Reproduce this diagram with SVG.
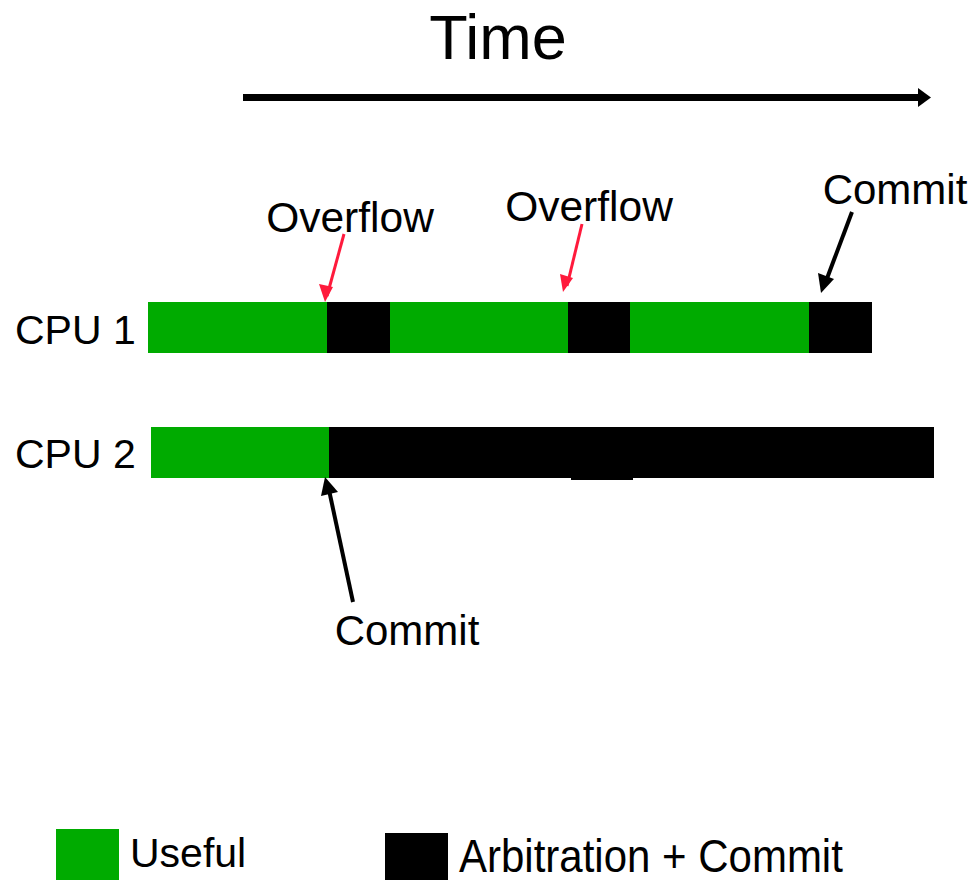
<svg xmlns="http://www.w3.org/2000/svg" width="977" height="880" viewBox="0 0 977 880">
  <style>
    text { font-family: "Liberation Sans", Arial, sans-serif; fill: #000; }
    .useful { fill: #00ab00; }
    .arb { fill: #000; }
    .red { stroke: #ff1a3c; stroke-width: 3; fill: none; }
    .blk { stroke: #000; stroke-width: 4; fill: none; }
  </style>

  <!-- time axis -->
  <g id="time-axis">
    <text x="498" y="59" font-size="63" text-anchor="middle">Time</text>
    <rect x="243" y="94" width="678" height="7" fill="#000"/>
    <path d="M918,88 L931,97.5 L918,107 z" fill="#000"/>
  </g>

  <!-- CPU 1 timeline -->
  <g id="cpu1">
    <text x="15" y="344" font-size="41">CPU 1</text>
    <rect class="useful" x="148" y="302" width="179" height="51"/>
    <rect class="arb" x="327" y="302" width="63" height="51"/>
    <rect class="useful" x="390" y="302" width="178" height="51"/>
    <rect class="arb" x="568" y="302" width="62" height="51"/>
    <rect class="useful" x="630" y="302" width="179" height="51"/>
    <rect class="arb" x="809" y="302" width="63" height="51"/>
  </g>

  <!-- CPU 2 timeline -->
  <g id="cpu2">
    <text x="15" y="468" font-size="41">CPU 2</text>
    <rect class="useful" x="151" y="427" width="178" height="51"/>
    <rect class="arb" x="329" y="427" width="605" height="51"/>
    <rect class="arb" x="571" y="427" width="62" height="53"/>
  </g>

  <!-- annotations -->
  <g id="overflow1">
    <text x="350" y="232" font-size="42.5" text-anchor="middle">Overflow</text>
  </g>
  <g id="overflow2">
    <text x="589" y="221" font-size="42.5" text-anchor="middle">Overflow</text>
  </g>
  <g id="commit-top">
    <text x="895" y="204" font-size="42" text-anchor="middle">Commit</text>
  </g>
  <g id="commit-bottom">
    <text x="407" y="645" font-size="42" text-anchor="middle">Commit</text>
  </g>

  <g id="connectors">
    <path d="M344,234 L327,296" class="red"/>
    <path d="M325,302 L319,284 L333,287 z" fill="#ff1a3c"/>
    <path d="M582,224 L567,286" class="red"/>
    <path d="M563,292 L560,274 L573,278 z" fill="#ff1a3c"/>
    <path d="M852,212 L826,281" class="blk"/>
    <path d="M821,293 L818,273 L834,279 z" fill="#000"/>
    <path d="M353,602 L329,490" class="blk"/>
    <path d="M325,477 L321,496 L338,492 z" fill="#000"/>
  </g>

  <!-- legend -->
  <g id="legend-useful">
    <rect class="useful" x="56" y="829" width="63" height="51"/>
    <text x="130" y="867" font-size="41">Useful</text>
  </g>
  <g id="legend-arb">
    <rect class="arb" x="385" y="833" width="63" height="47"/>
    <text x="0" y="0" font-size="42" transform="translate(459,872) scale(1,1.08)">Arbitration + Commit</text>
  </g>
</svg>
